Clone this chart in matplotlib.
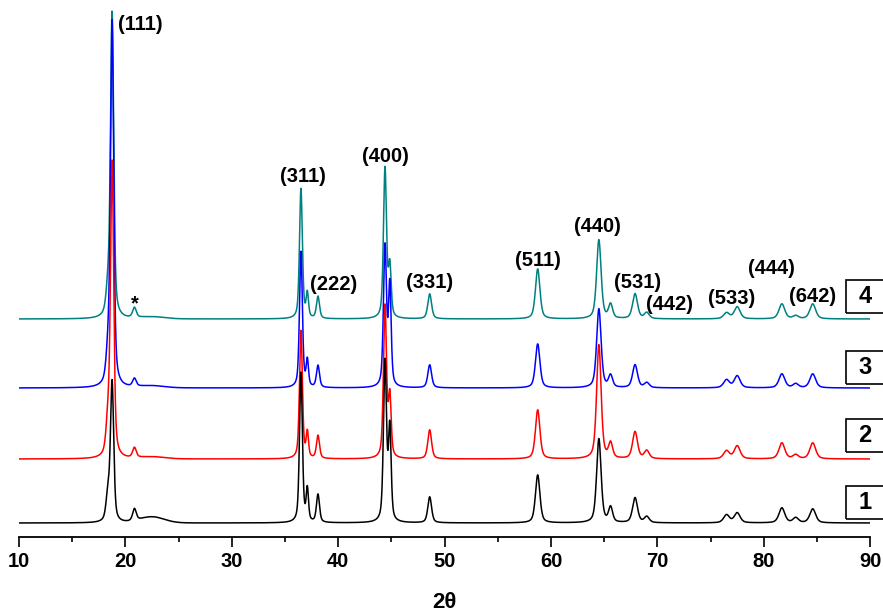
import numpy as np
import matplotlib
matplotlib.use("Agg")
import matplotlib.pyplot as plt
from matplotlib.patches import Rectangle

plt.rcParams['font.family'] = ['Liberation Sans', 'DejaVu Sans']

# peak table (2theta, fwhm) and heights of each pattern
peak_pos = [18.35, 18.75, 20.85, 36.5, 37.1, 38.1, 44.4, 44.85, 48.6, 58.75,
            64.5, 65.6, 67.9, 69.0, 76.5, 77.5, 81.7, 83.0, 84.6]
peak_fwhm = [0.4, 0.36, 0.4, 0.32, 0.26, 0.34, 0.34, 0.3, 0.42, 0.5,
             0.5, 0.45, 0.55, 0.55, 0.65, 0.65, 0.65, 0.6, 0.65]

h1 = [25, 140, 12, 150, 32, 28, 160, 92, 26, 48, 84, 15, 25, 6, 8, 10, 15, 5, 14]
h2 = [30, 295, 10, 128, 25, 23, 152, 60, 29, 49, 114, 15, 27, 8, 8, 13, 16, 4, 16]
h3 = [25, 365, 8, 136, 26, 22, 140, 100, 23, 44, 79, 12, 23, 5, 8, 12, 14, 4, 14]
h4 = [22, 305, 10, 130, 24, 22, 150, 50, 25, 50, 79, 14, 25, 6, 6, 12, 15, 3, 15]
heights = [h1, h2, h3, h4]

# small broad hump near 21-24 deg seen in pattern 1
hump = [6, 2, 2, 2]

baselines = [14, 78, 149, 218]
colors = ['black', 'red', 'blue', '#008080']
sample_labels = ['1', '2', '3', '4']

hkl = ['(111)', '*', '(311)', '(222)', '(400)', '(331)', '(511)', '(440)',
       '(531)', '(442)', '(533)', '(444)', '(642)']
hkl_xy = [(21.37, 513), (20.9, 233), (36.69, 360), (39.61, 252), (44.4, 380),
          (48.63, 255), (58.78, 277), (64.32, 310), (68.17, 254), (71.18, 232),
          (77.01, 239), (80.68, 268), (84.63, 241)]


def pattern(x, h, bump):
    y = np.zeros_like(x)
    for p, w, a in zip(peak_pos, peak_fwhm, h):
        d = (x - p) / (w / 2)
        lor = 1 / (1 + d ** 2)
        gau = np.exp(-np.log(2) * d ** 2)
        y += a * (0.5 * lor + 0.5 * gau)
    y += bump * np.exp(-((x - 22.5) / 1.6) ** 2)
    return y


tt = np.linspace(10, 90, 6000)

fig = plt.figure(figsize=(8.83, 6.16), dpi=100)
ax = fig.add_axes([0.0215, 1 - 537 / 616, 0.964, 537 / 616])

# pattern 4 at the back, pattern 1 on top
for i in [3, 2, 1, 0]:
    ax.plot(tt, baselines[i] + pattern(tt, heights[i], hump[i]), color=colors[i], lw=1.1)

for lab, (x, y) in zip(hkl, hkl_xy):
    ax.text(x, y, lab, ha='center', va='center', fontsize=14.5, fontweight='bold')

box_y = [34.5, 102, 169.5, 240.5]
for lab, yc in zip(sample_labels, box_y):
    ax.add_patch(Rectangle((87.73, yc - 16.5), 3.9, 33, fill=False, ec='black', lw=1.2, clip_on=False))
    ax.text(89.51, yc, lab, ha='center', va='center', fontsize=17, fontweight='bold')

ax.set_xlim(10, 90)
ax.set_ylim(0, 537)
for s in ['left', 'right', 'top']:
    ax.spines[s].set_visible(False)
ax.spines['bottom'].set_linewidth(1.3)
ax.set_yticks([])
ax.set_xticks(np.arange(10, 91, 10))
ax.set_xticks(np.arange(15, 90, 10), minor=True)
ax.tick_params(axis='x', which='major', direction='out', length=7, width=1.2, pad=4, labelsize=14.5)
ax.tick_params(axis='x', which='minor', direction='out', length=3.8, width=1.2)
for t in ax.get_xticklabels():
    t.set_fontweight('bold')
ax.set_xlabel('2θ', fontsize=16, fontweight='bold', labelpad=15)

fig.savefig('out.png', dpi=100)
